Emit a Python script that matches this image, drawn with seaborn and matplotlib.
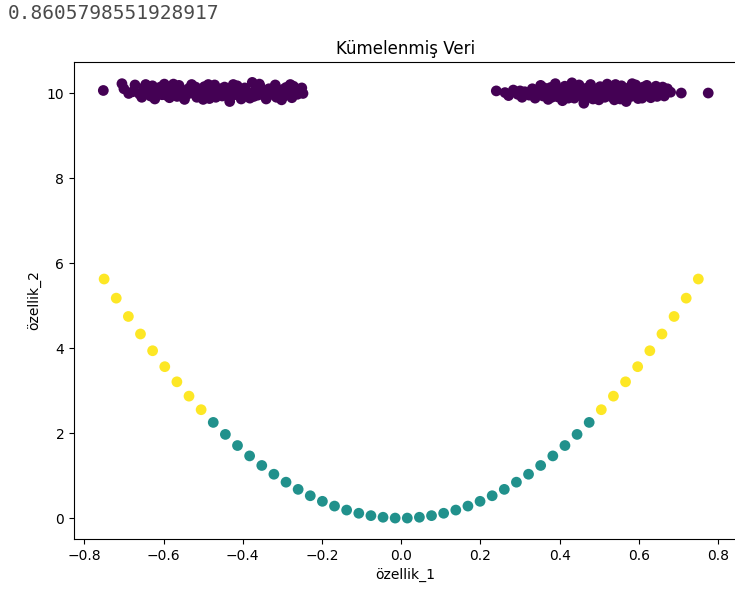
import matplotlib
matplotlib.use("Agg")
import matplotlib.pyplot as plt
import seaborn as sns
import pandas as pd

# Cluster scatter: two noisy bands at y~10 and a parabola below

score_text = "0.8605798551928917"

band_left_x = [-0.752, -0.705, -0.700, -0.678, -0.672, -0.661, -0.650, -0.641, -0.633, -0.628,
               -0.619, -0.612, -0.604, -0.598, -0.591, -0.585, -0.579, -0.572, -0.566, -0.561,
               -0.553, -0.547, -0.541, -0.536, -0.529, -0.522, -0.516, -0.510, -0.503, -0.497,
               -0.490, -0.484, -0.477, -0.471, -0.465, -0.459, -0.452, -0.446, -0.440, -0.433,
               -0.427, -0.421, -0.414, -0.408, -0.401, -0.395, -0.389, -0.382, -0.376, -0.369,
               -0.362, -0.356, -0.349, -0.341, -0.334, -0.326, -0.318, -0.311, -0.302, -0.296,
               -0.291, -0.284, -0.276, -0.272, -0.262, -0.258, -0.251, -0.248,
               -0.688, -0.655, -0.645, -0.622, -0.608, -0.594, -0.575, -0.557, -0.532, -0.519,
               -0.500, -0.487, -0.468, -0.455, -0.437, -0.424, -0.404, -0.392, -0.372, -0.358,
               -0.345, -0.330, -0.315, -0.300, -0.280, -0.267]
band_left_y = [10.06, 10.22, 10.10, 10.03, 10.19, 9.98, 10.12, 10.05, 9.93, 10.17,
               10.02, 10.09, 9.96, 10.21, 10.04, 9.89, 10.13, 10.00, 9.92, 10.18,
               10.07, 9.85, 9.97, 10.11, 10.20, 10.02, 9.90, 10.08, 9.95, 10.15,
               10.03, 9.87, 10.10, 10.19, 9.98, 10.06, 9.93, 10.14, 10.01, 9.80,
               10.09, 9.96, 10.17, 10.04, 9.91, 10.12, 10.00, 9.88, 10.25, 10.07,
               9.95, 10.15, 10.03, 9.86, 10.10, 9.97, 10.19, 10.05, 9.84, 9.93,
               10.13, 10.02, 9.89, 10.16, 9.97, 10.09, 10.12, 9.99,
               9.99, 9.90, 10.20, 9.86, 10.14, 9.95, 10.21, 9.93, 10.00, 10.14,
               9.85, 10.20, 9.90, 10.10, 9.92, 10.20, 9.86, 10.05, 9.92, 10.21,
               9.94, 10.02, 9.90, 10.08, 10.20, 10.03]

band_right_x = [0.240, 0.262, 0.271, 0.283, 0.294, 0.305, 0.312, 0.323, 0.331, 0.338,
                0.346, 0.352, 0.358, 0.365, 0.371, 0.377, 0.383, 0.389, 0.395, 0.401,
                0.407, 0.413, 0.419, 0.425, 0.431, 0.437, 0.443, 0.449, 0.455, 0.461,
                0.467, 0.472, 0.478, 0.484, 0.490, 0.496, 0.502, 0.508, 0.514, 0.520,
                0.526, 0.532, 0.538, 0.544, 0.550, 0.556, 0.562, 0.568, 0.574, 0.580,
                0.586, 0.592, 0.598, 0.604, 0.611, 0.617, 0.623, 0.630, 0.636, 0.643,
                0.650, 0.657, 0.664, 0.672, 0.680, 0.707, 0.775,
                0.300, 0.318, 0.342, 0.361, 0.380, 0.392, 0.410, 0.422, 0.440, 0.452,
                0.465, 0.481, 0.499, 0.511, 0.529, 0.541, 0.553, 0.571, 0.583, 0.595,
                0.608, 0.620, 0.633, 0.646, 0.660, 0.668]
band_right_y = [10.05, 10.01, 9.94, 10.07, 9.97, 9.90, 10.03, 9.95, 10.10, 9.88,
                10.01, 10.18, 9.93, 10.06, 9.85, 10.13, 9.99, 10.22, 9.91, 10.04,
                9.82, 10.16, 9.97, 10.09, 10.24, 9.88, 10.02, 10.19, 9.93, 9.76,
                10.11, 10.00, 10.20, 9.86, 10.07, 9.95, 10.15, 10.03, 9.90, 10.21,
                9.98, 10.10, 9.84, 10.05, 9.94, 10.17, 10.01, 9.80, 10.12, 9.92,
                10.06, 10.19, 9.87, 10.00, 10.14, 9.94, 10.08, 9.89, 10.03, 10.16,
                9.97, 10.06, 9.93, 10.10, 10.02, 10.00, 10.00,
                10.05, 9.99, 9.95, 10.12, 9.90, 10.08, 9.96, 9.88, 10.12, 10.05,
                9.88, 10.02, 9.84, 10.12, 9.92, 10.20, 9.86, 10.02, 10.22, 10.03,
                9.88, 10.18, 10.08, 9.92, 10.14, 10.00]

curve_x = [-0.7500, -0.7194, -0.6888, -0.6582, -0.6276, -0.5969, -0.5663, -0.5357, -0.5051,
           -0.4745, -0.4439, -0.4133, -0.3827, -0.3520, -0.3214, -0.2908, -0.2602, -0.2296,
           -0.1990, -0.1684, -0.1378, -0.1071, -0.0765, -0.0459, -0.0153,
           0.0153, 0.0459, 0.0765, 0.1071, 0.1378, 0.1684, 0.1990, 0.2296, 0.2602,
           0.2908, 0.3214, 0.3520, 0.3827, 0.4133, 0.4439, 0.4745,
           0.5051, 0.5357, 0.5663, 0.5969, 0.6276, 0.6582, 0.6888, 0.7194, 0.7500]
curve_y = [5.625, 5.175, 4.744, 4.332, 3.938, 3.563, 3.207, 2.870, 2.551,
           2.252, 1.970, 1.708, 1.464, 1.239, 1.033, 0.846, 0.677, 0.527,
           0.396, 0.284, 0.190, 0.115, 0.059, 0.021, 0.002,
           0.002, 0.021, 0.059, 0.115, 0.190, 0.284, 0.396, 0.527, 0.677,
           0.846, 1.033, 1.239, 1.464, 1.708, 1.970, 2.252,
           2.551, 2.870, 3.207, 3.563, 3.938, 4.332, 4.744, 5.175, 5.625]
curve_labels = [2] * 9 + [1] * 32 + [2] * 9

cluster_colors = {0: "#440154", 1: "#21918c", 2: "#fde725"}

df = pd.DataFrame({
    "x": band_left_x + band_right_x + curve_x,
    "y": band_left_y + band_right_y + curve_y,
    "label": [0] * len(band_left_x) + [0] * len(band_right_x) + curve_labels,
})

fig = plt.figure(figsize=(7.35, 5.99), dpi=100)
# the axes run a little past the right edge of the canvas
ax = fig.add_axes([0.1007, 0.1002, 0.92, 0.7963])

sns.scatterplot(data=df, x="x", y="y", hue="label", palette=cluster_colors,
                s=60, linewidth=0, edgecolor="none", legend=False, ax=ax)

ax.set_xlim(-0.826, 0.881)
ax.set_ylim(-0.49, 10.73)
ax.set_xticks([-0.8, -0.6, -0.4, -0.2, 0.0, 0.2, 0.4, 0.6, 0.8])
ax.set_yticks([0, 2, 4, 6, 8, 10])
ax.tick_params(labelsize=10)
# title and x label centred on the visible part of the axes
ax.set_title("Kümelenmiş Veri", fontsize=12, x=0.490)
ax.set_xlabel("özellik_1", fontsize=10, x=0.490)
ax.set_ylabel("özellik_2", fontsize=10)

fig.text(0.011, 0.977, score_text, family="DejaVu Sans Mono", fontsize=14,
         color="#4a4a4a", ha="left", va="center")

fig.savefig("out.png", dpi=100)
